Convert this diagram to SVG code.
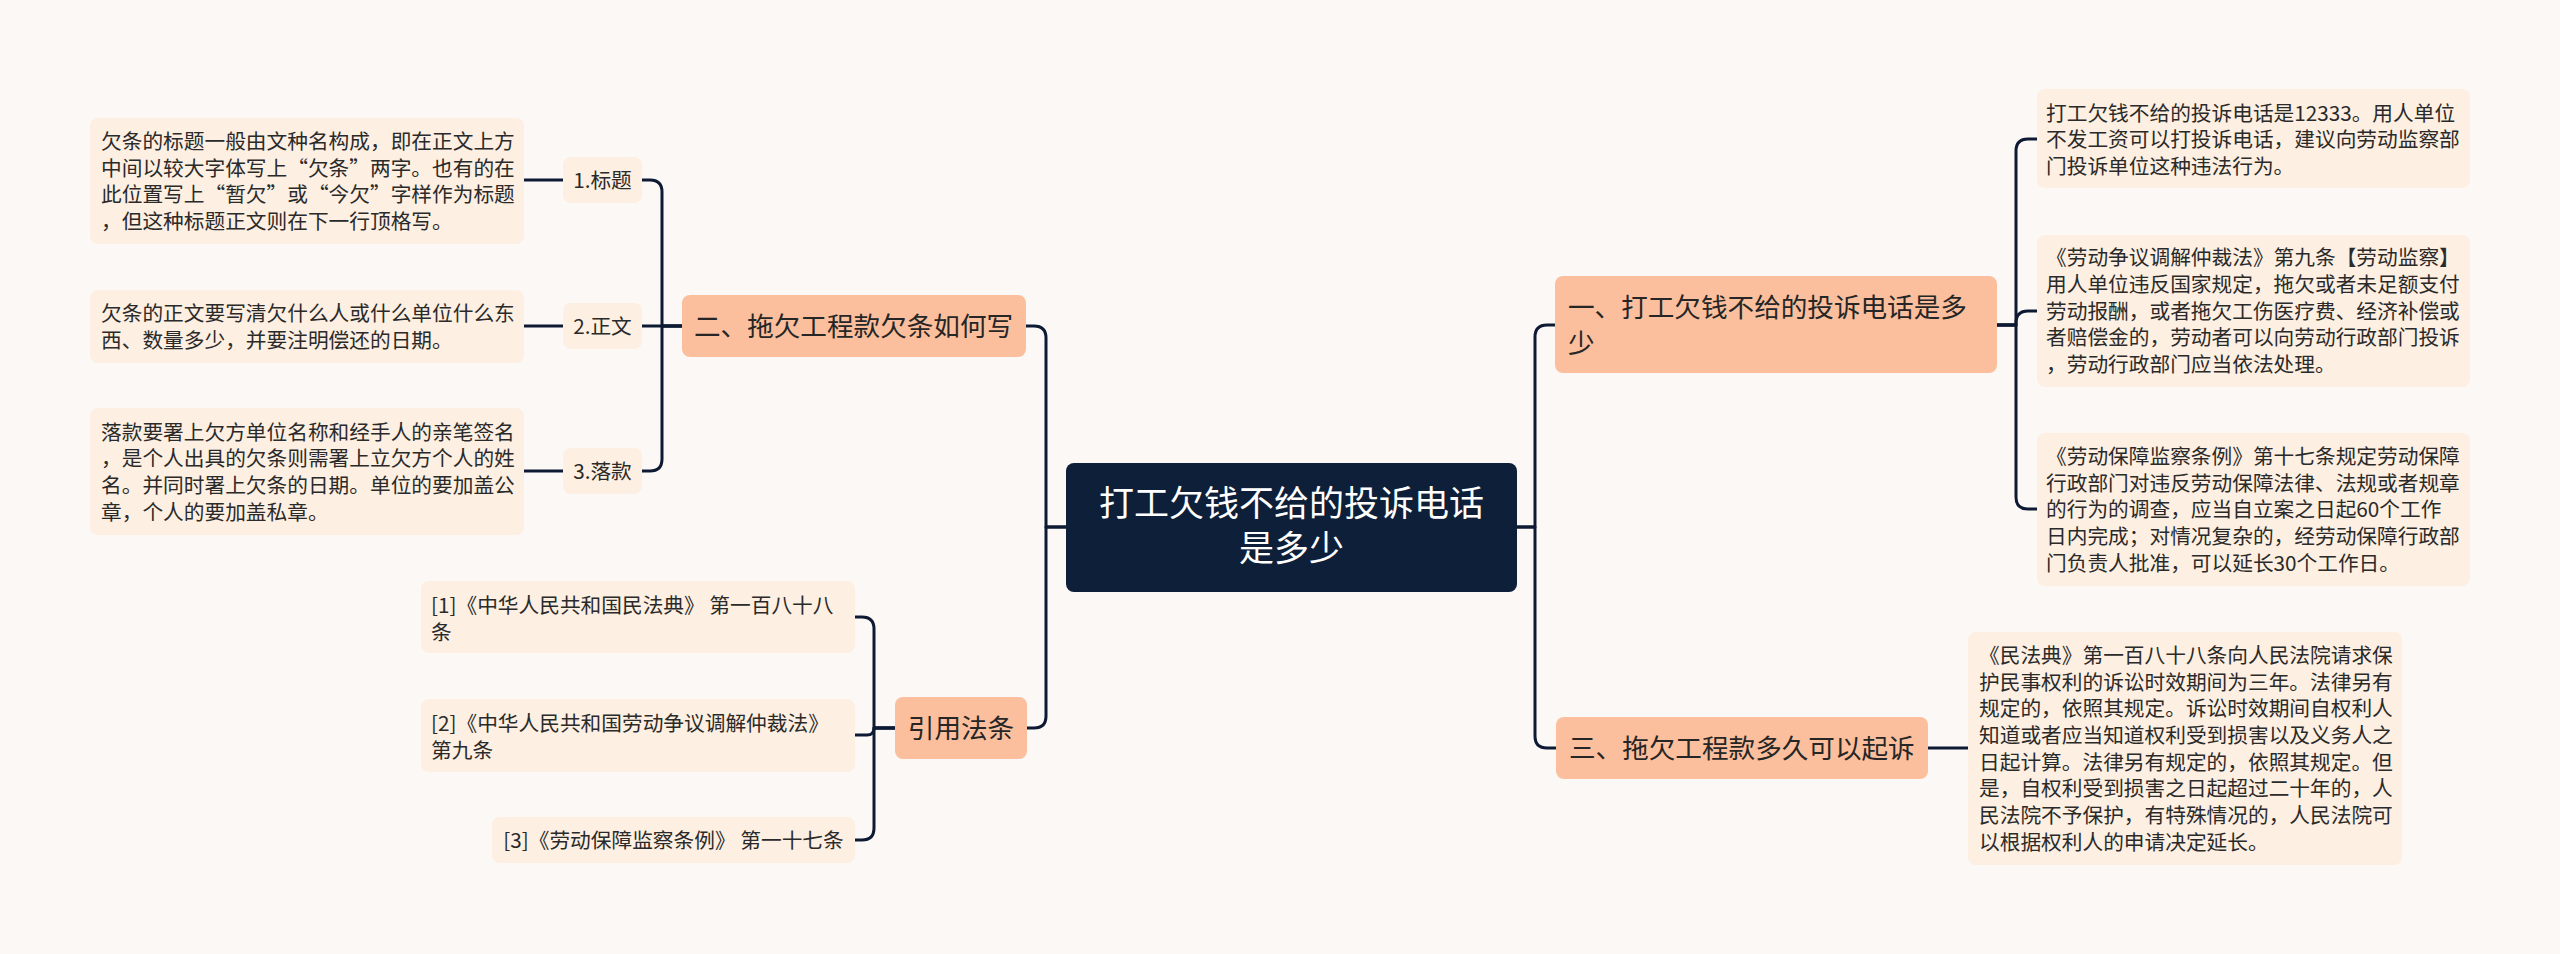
<svg xmlns="http://www.w3.org/2000/svg" width="2560" height="954" viewBox="0 0 2560 954">
<style>
.bg{fill:#fcf8f6}
.leaf{fill:#fdefe1}
.br{fill:#fbbf9d}
.root{fill:#0e1f3a}
.lt{font-family:"Noto Sans CJK SC","Noto Sans",sans-serif;font-size:20.7px;fill:#2a2a2a}
.bt{font-family:"Noto Sans CJK SC","Noto Sans",sans-serif;font-size:26.6px;fill:#262626}
.rt{font-family:"Noto Sans CJK SC","Noto Sans",sans-serif;font-size:35px;fill:#ffffff}
.c{fill:none;stroke:#0e1a33;stroke-width:3;stroke-linecap:round;stroke-linejoin:round}
</style>
<rect class="bg" x="0" y="0" width="2560" height="954"/>
<g id="connectors">
<path class="c" d="M1066 527 H1046 V338 Q1046 326 1034 326 H1026"/>
<path class="c" d="M1066 527 H1046 V716 Q1046 728 1034 728 H1027"/>
<path class="c" d="M682 326 H662 V192 Q662 180 650 180 H642"/>
<path class="c" d="M682 326 H642"/>
<path class="c" d="M682 326 H662 V459 Q662 471 650 471 H642"/>
<path class="c" d="M563 180 H524"/>
<path class="c" d="M563 326 H524"/>
<path class="c" d="M563 471 H524"/>
<path class="c" d="M895 728 H874 V629 Q874 617 862 617 H855"/>
<path class="c" d="M895 728 H874 Q874 735 867 735 H855"/>
<path class="c" d="M895 728 H874 V828 Q874 840 862 840 H855"/>
<path class="c" d="M1517 527 H1535 V337 Q1535 325 1547 325 H1555"/>
<path class="c" d="M1517 527 H1535 V736 Q1535 748 1547 748 H1556"/>
<path class="c" d="M1997 325 H2016 V151 Q2016 139 2028 139 H2037"/>
<path class="c" d="M1997 325 H2016 V323 Q2016 311 2028 311 H2037"/>
<path class="c" d="M1997 325 H2016 V497 Q2016 509 2028 509 H2037"/>
<path class="c" d="M1928 748 H1968"/>
</g>
<g id="root">
<rect class="root" x="1066" y="463" width="451" height="129" rx="8"/>
<text class="rt" text-anchor="middle"><tspan x="1291.5" y="516">打工欠钱不给的投诉电话</tspan><tspan x="1291.5" y="561">是多少</tspan></text>
</g>
<g id="b2">
<rect class="br" x="682" y="295" width="344" height="62" rx="8"/>
<text class="bt" x="694" y="336">二、拖欠工程款欠条如何写</text>
</g>
<g id="b2s1">
<rect class="leaf" x="563" y="157" width="79" height="46" rx="8"/>
<text class="lt" x="602.5" y="187.5" text-anchor="middle">1.标题</text>
</g>
<g id="b2s2">
<rect class="leaf" x="563" y="303" width="79" height="46" rx="8"/>
<text class="lt" x="602.5" y="333.5" text-anchor="middle">2.正文</text>
</g>
<g id="b2s3">
<rect class="leaf" x="563" y="448" width="79" height="46" rx="8"/>
<text class="lt" x="602.5" y="478.5" text-anchor="middle">3.落款</text>
</g>
<g id="b2l1">
<rect class="leaf" x="90" y="118" width="434" height="126" rx="8"/>
<text class="lt" x="101" y="149">欠条的标题一般由文种名构成，即在正文上方</text>
<text class="lt" x="101" y="175.7">中间以较大字体写上“欠条”两字。也有的在</text>
<text class="lt" x="101" y="202.4">此位置写上“暂欠”或“今欠”字样作为标题</text>
<text class="lt" x="101" y="229.1">，但这种标题正文则在下一行顶格写。</text>
</g>
<g id="b2l2">
<rect class="leaf" x="90" y="290" width="434" height="73" rx="8"/>
<text class="lt" x="101" y="321">欠条的正文要写清欠什么人或什么单位什么东</text>
<text class="lt" x="101" y="347.7">西、数量多少，并要注明偿还的日期。</text>
</g>
<g id="b2l3">
<rect class="leaf" x="90" y="408" width="434" height="127" rx="8"/>
<text class="lt" x="101" y="439.5">落款要署上欠方单位名称和经手人的亲笔签名</text>
<text class="lt" x="101" y="466.2">，是个人出具的欠条则需署上立欠方个人的姓</text>
<text class="lt" x="101" y="492.9">名。并同时署上欠条的日期。单位的要加盖公</text>
<text class="lt" x="101" y="519.6">章，个人的要加盖私章。</text>
</g>
<g id="law">
<rect class="br" x="895" y="697" width="132" height="62" rx="8"/>
<text class="bt" x="961" y="737.5" text-anchor="middle">引用法条</text>
</g>
<g id="law1">
<rect class="leaf" x="421" y="581" width="434" height="72" rx="8"/>
<text class="lt" x="431" y="612.5">[1]《中华人民共和国民法典》 第一百八十八</text>
<text class="lt" x="431" y="639.5">条</text>
</g>
<g id="law2">
<rect class="leaf" x="421" y="699" width="434" height="73" rx="8"/>
<text class="lt" x="431" y="730.5">[2]《中华人民共和国劳动争议调解仲裁法》</text>
<text class="lt" x="431" y="757.5">第九条</text>
</g>
<g id="law3">
<rect class="leaf" x="492" y="817" width="363" height="46" rx="8"/>
<text class="lt" x="673.5" y="847.5" text-anchor="middle">[3]《劳动保障监察条例》 第一十七条</text>
</g>
<g id="b1">
<rect class="br" x="1555" y="276" width="442" height="97" rx="8"/>
<text class="bt" x="1568" y="316.5">一、打工欠钱不给的投诉电话是多</text>
<text class="bt" x="1568" y="352.5">少</text>
</g>
<g id="b1l1">
<rect class="leaf" x="2037" y="89" width="433" height="99" rx="8"/>
<text class="lt" x="2046" y="120.5">打工欠钱不给的投诉电话是12333。用人单位</text>
<text class="lt" x="2046" y="147.2">不发工资可以打投诉电话，建议向劳动监察部</text>
<text class="lt" x="2046" y="173.9">门投诉单位这种违法行为。</text>
</g>
<g id="b1l2">
<rect class="leaf" x="2037" y="235" width="433" height="152" rx="8"/>
<text class="lt" x="2046" y="265.3">《劳动争议调解仲裁法》第九条【劳动监察】</text>
<text class="lt" x="2046" y="292">用人单位违反国家规定，拖欠或者未足额支付</text>
<text class="lt" x="2046" y="318.7">劳动报酬，或者拖欠工伤医疗费、经济补偿或</text>
<text class="lt" x="2046" y="345.4">者赔偿金的，劳动者可以向劳动行政部门投诉</text>
<text class="lt" x="2046" y="372.1">，劳动行政部门应当依法处理。</text>
</g>
<g id="b1l3">
<rect class="leaf" x="2037" y="433" width="433" height="153" rx="8"/>
<text class="lt" x="2046" y="463.8">《劳动保障监察条例》第十七条规定劳动保障</text>
<text class="lt" x="2046" y="490.5">行政部门对违反劳动保障法律、法规或者规章</text>
<text class="lt" x="2046" y="517.2">的行为的调查，应当自立案之日起60个工作</text>
<text class="lt" x="2046" y="543.9">日内完成；对情况复杂的，经劳动保障行政部</text>
<text class="lt" x="2046" y="570.6">门负责人批准，可以延长30个工作日。</text>
</g>
<g id="b3">
<rect class="br" x="1556" y="717" width="372" height="62" rx="8"/>
<text class="bt" x="1569" y="757.5">三、拖欠工程款多久可以起诉</text>
</g>
<g id="b3l1">
<rect class="leaf" x="1968" y="632" width="434" height="233" rx="8"/>
<text class="lt" x="1979" y="662.8">《民法典》第一百八十八条向人民法院请求保</text>
<text class="lt" x="1979" y="689.5">护民事权利的诉讼时效期间为三年。法律另有</text>
<text class="lt" x="1979" y="716.2">规定的，依照其规定。诉讼时效期间自权利人</text>
<text class="lt" x="1979" y="742.9">知道或者应当知道权利受到损害以及义务人之</text>
<text class="lt" x="1979" y="769.6">日起计算。法律另有规定的，依照其规定。但</text>
<text class="lt" x="1979" y="796.3">是，自权利受到损害之日起超过二十年的，人</text>
<text class="lt" x="1979" y="823">民法院不予保护，有特殊情况的，人民法院可</text>
<text class="lt" x="1979" y="849.7">以根据权利人的申请决定延长。</text>
</g>
</svg>
